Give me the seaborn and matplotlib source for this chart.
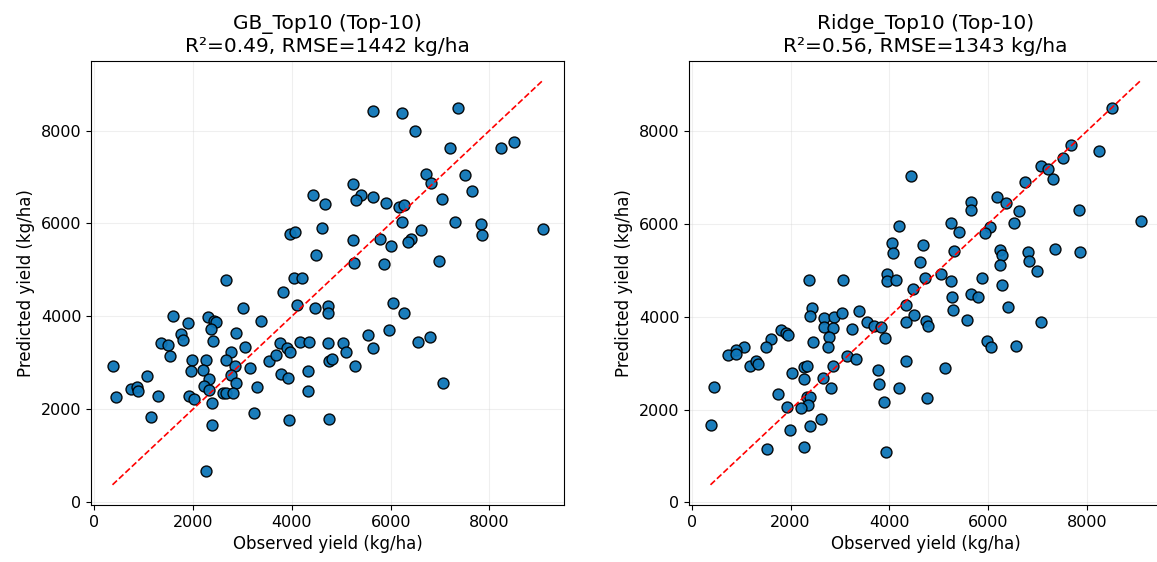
import numpy as np
import pandas as pd
import matplotlib
matplotlib.use("Agg")
import matplotlib.pyplot as plt
import seaborn as sns

# GB_Top10 (observed, predicted) in kg/ha
gb_obs = [4425, 4669, 3960, 4068, 4608, 4487, 2662, 4034, 4203, 5636,
          6230, 7359, 6494, 7196, 8244, 8508, 6724, 6818, 7501, 7656,
          5230, 5406, 5305, 5642, 5913, 6163, 6278, 7041, 6237, 7304,
          7825, 7845, 9076, 6608, 5237, 5784, 6014, 6406, 6359, 5250,
          5872, 6987, 3825, 4109, 4466, 4725, 4725, 3014, 1588, 2297,
          2419, 2459, 2365, 1892, 3372, 2858, 1743, 1790, 2392, 1338,
          1494, 1520, 3047, 2763, 3764, 3892, 3953, 4170, 4352, 4723,
          1966, 2256, 2656, 2838, 3148, 3541, 3675, 1946, 2203, 2757,
          2325, 3777, 3926, 4332, 4750, 4804, 365, 1054, 730, 865,
          878, 440, 1291, 2224, 2317, 2858, 3298, 2595, 2656, 2804,
          1920, 2021, 2378, 4332, 1155, 3223, 3933, 4758, 2372, 2264,
          6041, 6264, 5974, 5541, 5041, 5102, 5642, 5271, 6554, 6798,
          7061]
gb_pred = [6603, 6415, 5782, 5818, 5896, 5322, 4773, 4817, 4817, 8423,
           8389, 8482, 7991, 7633, 7618, 7754, 7063, 6877, 7035, 6696,
           6840, 6603, 6510, 6566, 6436, 6343, 6387, 6531, 6035, 6035,
           5983, 5745, 5883, 5847, 5646, 5659, 5523, 5659, 5594, 5156,
           5127, 5184, 4529, 4233, 4184, 4215, 4070, 4177, 3996, 3974,
           3896, 3866, 3730, 3853, 3903, 3644, 3622, 3492, 3456, 3421,
           3378, 3140, 3326, 3233, 3413, 3305, 3227, 3434, 3449, 3413,
           3054, 3045, 3054, 2931, 2873, 3024, 3153, 2823, 2829, 2737,
           2644, 2743, 2665, 2808, 3024, 3082, 2931, 2700, 2434, 2470,
           2384, 2268, 2283, 2484, 2413, 2557, 2470, 2354, 2341, 2341,
           2289, 2225, 2125, 2397, 1823, 1909, 1771, 1780, 1650, 663,
           4292, 4076, 3708, 3585, 3421, 3218, 3320, 2916, 3434, 3557,
           2564]

# Ridge_Top10 (observed, predicted) in kg/ha
ridge_obs = [4436, 4205, 4050, 4071, 4679, 4625, 3962, 2373, 3057, 3955,
             4131, 4726, 8519, 8256, 7673, 7511, 7065, 7215, 7316, 6741,
             6173, 6369, 5653, 5653, 6619, 6518, 6031, 5930, 5240, 5416,
             7844, 9087, 5314, 6241, 6274, 6241, 6802, 6822, 6992, 7363,
             7864, 5051, 5240, 5882, 6288, 4489, 4347, 4497, 4347, 4740,
             4793, 2428, 2400, 2677, 2874, 3036, 3387, 2671, 2860, 2772,
             2759, 3239, 3556, 3692, 3840, 3921, 2460, 1799, 1907, 1947,
             1602, 1495, 1061, 886, 736, 892, 1170, 1305, 1339, 3150,
             3320, 2866, 2265, 2333, 2022, 2265, 2664, 2813, 3773, 4334,
             3787, 4193, 4773, 452, 1751, 2339, 2387, 2359, 2204, 1933,
             3901, 2610, 2387, 1981, 379, 1527, 2278, 3941, 5260, 5645,
             5801, 5280, 6410, 5564, 7079, 5984, 6051, 6572, 5118]
ridge_pred = [7041, 5955, 5581, 5378, 5538, 5177, 4925, 4795, 4795, 4767,
              4788, 4832, 8497, 7575, 7698, 7423, 7244, 7179, 6976, 6898,
              6588, 6451, 6479, 6293, 6272, 6026, 5940, 5797, 6026, 5832,
              6293, 6056, 5415, 5443, 5328, 5119, 5393, 5192, 4989, 5451,
              5400, 4925, 4773, 4846, 4687, 4600, 4263, 4032, 3896, 3903,
              3810, 4184, 4011, 3974, 3989, 4082, 4125, 3780, 3767, 3572,
              3341, 3730, 3881, 3801, 3788, 3542, 3456, 3724, 3659, 3600,
              3529, 3348, 3348, 3292, 3168, 3205, 2946, 3039, 2989, 3147,
              3097, 2946, 2916, 2931, 2795, 2650, 2687, 2471, 2845, 3039,
              2557, 2462, 2246, 2484, 2341, 2268, 2261, 2104, 2039, 2045,
              2168, 1801, 1650, 1570, 1657, 1153, 1197, 1095, 4428, 4486,
              4436, 4155, 4220, 3931, 3888, 3471, 3341, 3370, 2888]

titles = ["GB_Top10 (Top-10)\nR²=0.49, RMSE=1442 kg/ha",
          "Ridge_Top10 (Top-10)\nR²=0.56, RMSE=1343 kg/ha"]

sns.set_style("ticks")
plt.rcParams['font.family'] = ['DejaVu Sans']
plt.rcParams['text.color'] = 'black'
plt.rcParams['axes.labelcolor'] = 'black'
plt.rcParams['xtick.color'] = 'black'
plt.rcParams['ytick.color'] = 'black'

fig = plt.figure(figsize=(11.57, 5.62), dpi=100)
W, H = 1157., 562.
ax1 = fig.add_axes([91 / W, 1 - 505 / H, 473 / W, 444.5 / H])
ax2 = fig.add_axes([689 / W, 1 - 505 / H, 473 / W, 444.5 / H])

pairs = [(gb_obs, gb_pred), (ridge_obs, ridge_pred)]
for ax, (obs, pred), title in zip([ax1, ax2], pairs, titles):
    df = pd.DataFrame({'obs': obs, 'pred': pred})
    sns.scatterplot(data=df, x='obs', y='pred', ax=ax, s=62,
                    color='#0e76b8', edgecolor='black', linewidth=1.0,
                    alpha=0.95, zorder=3)
    lo, hi = min(obs), max(obs)
    ax.plot([lo, hi], [lo, hi], 'r--', linewidth=1.2, zorder=4)
    ax.set_xlabel('Observed yield (kg/ha)', fontsize=12)
    ax.set_ylabel('Predicted yield (kg/ha)', fontsize=12)
    ax.set_title(title, fontsize=14.5)
    ax.set_xticks([0, 2000, 4000, 6000, 8000])
    ax.set_yticks([0, 2000, 4000, 6000, 8000])
    ax.tick_params(labelsize=11.5)
    ax.grid(True, alpha=0.3)
    for sp in ax.spines.values():
        sp.set_color('black')

plt.savefig("out.png", dpi=100)
plt.close()
